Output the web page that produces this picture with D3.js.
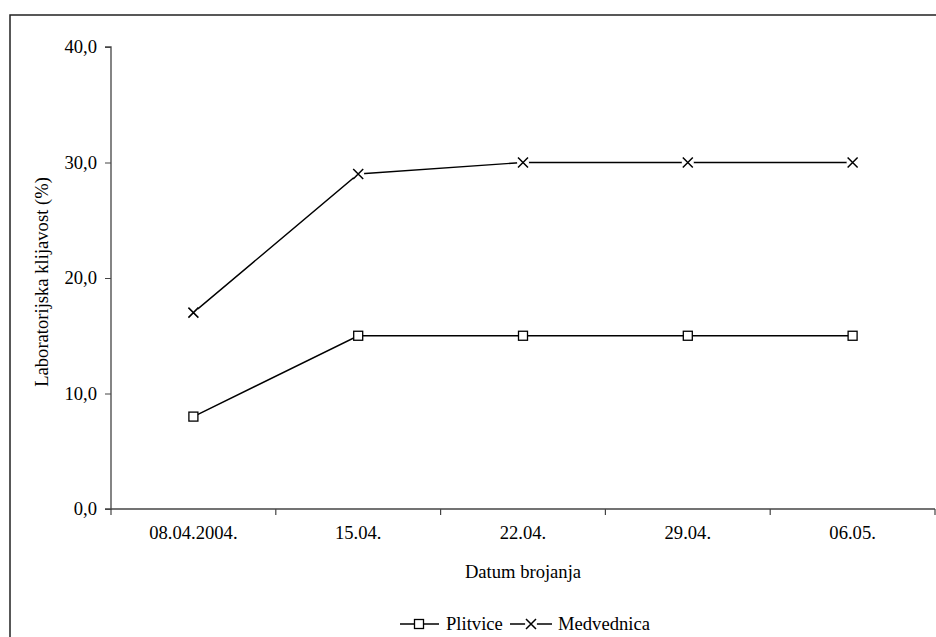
<!DOCTYPE html>
<html><head><meta charset="utf-8">
<script src="https://cdn.jsdelivr.net/npm/d3@7"></script>
<style>body{margin:0;background:#fff}svg{display:block}text{font-family:"Liberation Serif","Times New Roman",serif;fill:#000}</style>
</head><body>
<svg id="c" width="936" height="637"></svg>
<script>
const categories = ["08.04.2004.", "15.04.", "22.04.", "29.04.", "06.05."];
const plitvice = [8, 15, 15, 15, 15];
const medvednica = [17, 29, 30, 30, 30];
const yTicks = [0, 10, 20, 30, 40];
const seriesNames = ["Plitvice", "Medvednica"];

const FS = "18.6px";
const FF = "'Liberation Serif', 'Times New Roman', serif";
const svg = d3.select("#c");
// outer frame
svg.append("rect").attr("x",10).attr("y",15).attr("width",940).attr("height",640)
  .attr("fill","none").attr("stroke","#222").attr("stroke-width",1.5);

const pL=111, pR=935, pT=47, pB=509;
const x = d3.scaleBand().domain(categories).range([pL,pR]);
const y = d3.scaleLinear().domain([0,40]).range([pB,pT]);
const fmt = v => d3.format(".1f")(v).replace(".", ",");

// y axis
const ya = svg.append("g").attr("transform",`translate(${pL},0)`)
  .call(d3.axisLeft(y).tickValues(yTicks).tickFormat(fmt).tickSize(6).tickPadding(8));
ya.attr("font-family",FF).attr("font-size",FS);
ya.select(".domain").attr("stroke","#444").attr("stroke-width",1.3).attr("d",`M-6,${pT}H0V${pB}H-6`);
ya.selectAll(".tick line").attr("stroke","#444");

// x axis
const xa = svg.append("g").attr("transform",`translate(0,${pB})`)
  .call(d3.axisBottom(x).tickSize(0).tickPadding(17));
xa.attr("font-family",FF).attr("font-size",FS);
xa.select(".domain").attr("stroke","#444").attr("stroke-width",1.3).attr("d",`M${pL},0H${pR}`);
// x boundary ticks
const bounds = categories.map(c=>x(c)).concat([pR]);
svg.append("g").selectAll("line").data(bounds).join("line")
  .attr("x1",d=>d).attr("x2",d=>d).attr("y1",pB).attr("y2",pB+6).attr("stroke","#444").attr("stroke-width",1.2);

const cx = c => x(c)+x.bandwidth()/2;

// axis titles
svg.append("text").attr("x",523).attr("y",578).attr("text-anchor","middle").style("font-size",FS).text("Datum brojanja");
svg.append("text").attr("transform",`translate(48,282) rotate(-90)`).attr("text-anchor","middle").style("font-size",FS).text("Laboratorijska klijavost (%)");

const line = d3.line().x((d,i)=>cx(categories[i])).y(d=>y(d));
[plitvice, medvednica].forEach(s=>{
  svg.append("path").attr("d",line(s)).attr("fill","none").attr("stroke","#000").attr("stroke-width",1.4);
});
// markers
function square(g, px, py){
  g.append("rect").attr("x",px-4.5).attr("y",py-4.5).attr("width",9).attr("height",9)
    .attr("fill","#fff").attr("stroke","#000").attr("stroke-width",1.3);
}
function cross(g, px, py, gap){
  if(gap) g.append("circle").attr("cx",px).attr("cy",py).attr("r",6).attr("fill","#fff");
  g.append("path").attr("d",`M${px-5},${py-5}L${px+5},${py+5}M${px+5},${py-5}L${px-5},${py+5}`)
    .attr("stroke","#000").attr("stroke-width",1.5).attr("fill","none");
}
const mg = svg.append("g");
plitvice.forEach((v,i)=>square(mg, cx(categories[i]), y(v)));
medvednica.forEach((v,i)=>cross(mg, cx(categories[i]), y(v), true));

// legend
const lg = svg.append("g");
const ly = 624;
lg.append("line").attr("x1",400).attr("x2",439).attr("y1",ly).attr("y2",ly).attr("stroke","#000").attr("stroke-width",1.4);
square(lg, 419, ly);
lg.append("text").attr("x",446).attr("y",ly+6).style("font-size",FS).text(seriesNames[0]);
lg.append("line").attr("x1",510).attr("x2",552).attr("y1",ly).attr("y2",ly).attr("stroke","#000").attr("stroke-width",1.4);
cross(lg, 531, ly, true);
lg.append("text").attr("x",558).attr("y",ly+6).style("font-size",FS).text(seriesNames[1]);
</script>
</body></html>
